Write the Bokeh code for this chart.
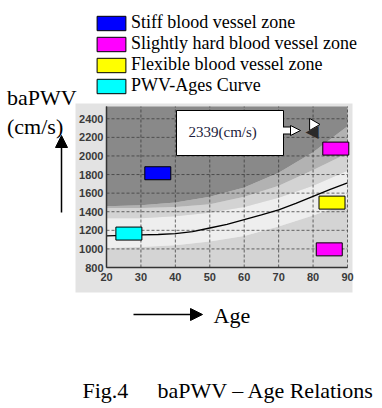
import math
from bokeh.plotting import figure
from bokeh.models import (Range1d, FixedTicker, Label, Arrow, NormalHead,
                          Legend, LegendItem, LinearAxis)
from bokeh.core.properties import value
from bokeh.embed import file_html
from bokeh.resources import INLINE

# ---------------- data ----------------
ages = [20, 30, 40, 50, 60, 70, 80, 90]
stiff_zone_lower = [1460, 1470, 1500, 1560, 1660, 1820, 2040, 2320]
transition_zone_lower = [1440, 1440, 1450, 1480, 1560, 1680, 1850, 2030]
upper_normal_lower = [1330, 1330, 1350, 1390, 1450, 1550, 1680, 1840]
flexible_zone_lower = [1010, 1020, 1040, 1080, 1140, 1240, 1360, 1490]

curve_ages = [20, 25, 30, 35, 40, 45, 50, 55, 60, 65, 70, 75, 80, 85, 90]
curve_pwv = [1140, 1145, 1150, 1155, 1165, 1185, 1225, 1265, 1315, 1365,
             1420, 1490, 1565, 1640, 1710]

stiff_age = [34.9]
stiff_pwv = [1814]
slight_age = [86.6, 84.7]
slight_pwv = [2079, 995]
flex_age = [85.5]
flex_pwv = [1498]
curve_marker_age = [26.5]
curve_marker_pwv = [1165]

measured_age = [80]
measured_pwv = [2339]

x_ticks = [20, 30, 40, 50, 60, 70, 80, 90]
y_ticks = [800, 1000, 1200, 1400, 1600, 1800, 2000, 2200, 2400]

legend_labels = ["Stiff blood vessel zone", "Slightly hard blood vessel zone",
                 "Flexible blood vessel zone", "PWV-Ages Curve"]

# ---------------- layout (page pixels, y downwards) ----------------
CW, CH = 382, 408
PL, PR, PT, PB = 106, 347, 106, 267     # chart area
X0, X1 = 20, 90
Y0, Y_TOP = 800, 2532
SERIF = "Liberation Serif"

kx = (X1 - X0) / (PR - PL)
ky = (Y_TOP - Y0) / (PB - PT)

p = figure(width=CW, height=CH, x_range=Range1d(0, CW), y_range=Range1d(CH, 0),
           x_axis_type=None, y_axis_type=None,
           output_backend="svg", toolbar_location=None, min_border=0)
p.min_border_left = p.min_border_right = p.min_border_top = p.min_border_bottom = 0
p.background_fill_color = "white"
p.border_fill_color = "white"
p.outline_line_color = None
p.grid.visible = False

p.extra_x_ranges = {"age": Range1d(X0 - PL * kx, X1 + (CW - PR) * kx)}
p.extra_y_ranges = {"pwv": Range1d(Y0 - (CH - PB) * ky, Y_TOP + PT * ky)}
KW = dict(x_range_name="age", y_range_name="pwv")

# outer light-grey picture background
p.quad(left=[75], right=[352], top=[103], bottom=[292], fill_color="#e3e3e3",
       line_color=None)

# zone bands
bands = [
    (Y0, flexible_zone_lower, "#d4d4d4"),
    (flexible_zone_lower, upper_normal_lower, "#eeeeee"),
    (upper_normal_lower, transition_zone_lower, "#d3d3d3"),
    (transition_zone_lower, stiff_zone_lower, "#b2b2b2"),
    (stiff_zone_lower, Y_TOP, "#898989"),
]
for lo, hi, col in bands:
    p.varea(x=ages, y1=lo, y2=hi, fill_color=col, **KW)

# dashed grid
p.segment(x0=x_ticks, y0=Y0, x1=x_ticks, y1=Y_TOP, line_color="#3a3a3a",
          line_dash="3 2", line_alpha=0.75, line_width=1, **KW)
p.segment(x0=X0, y0=y_ticks, x1=X1, y1=y_ticks, line_color="#3a3a3a",
          line_dash="3 2", line_alpha=0.75, line_width=1, **KW)

# axes at the chart edges
xax = LinearAxis(fixed_location=Y0, bounds=(X0, X1), ticker=FixedTicker(ticks=x_ticks), **KW)
yax = LinearAxis(fixed_location=X0, bounds=(Y0, Y_TOP), ticker=FixedTicker(ticks=y_ticks), **KW)
for ax in (xax, yax):
    ax.axis_line_color = "#333333"
    ax.axis_line_width = 1.5
    ax.major_tick_line_color = None
    ax.minor_tick_line_color = None
    ax.major_tick_in = 0
    ax.major_tick_out = 0
    ax.major_label_text_font = "Liberation Sans"
    ax.major_label_text_font_size = "11px"
    ax.major_label_text_font_style = "bold"
    ax.major_label_text_color = "#3a3a3a"
xax.major_label_standoff = 5
yax.major_label_standoff = 3
p.add_layout(xax, "below")
p.add_layout(yax, "left")

# PWV-age curve
p.line(curve_ages, curve_pwv, line_color="black", line_width=1.3, **KW)

# zone marker boxes
def zone_box(xs, ys, col):
    return p.rect(x=xs, y=ys, width=26, height=13, width_units="screen",
                  height_units="screen", fill_color=col, line_color="black",
                  line_width=1, **KW)

r_stiff = zone_box(stiff_age, stiff_pwv, "#0000ff")
r_slight = zone_box(slight_age, slight_pwv, "#ff00ff")
r_flex = zone_box(flex_age, flex_pwv, "#ffff00")
r_curve = zone_box(curve_marker_age, curve_marker_pwv, "#00ffff")

# measured point marker
p.scatter(measured_age, measured_pwv, marker="triangle", angle=-math.pi / 2,
          size=12, fill_color="white", line_color="black", line_width=1, **KW)
p.text(x=measured_age, y=measured_pwv, text=["\u25C0"], text_font=value("DejaVu Sans"),
       text_font_size="17px", text_color="#2a2a2a", text_align="center",
       text_baseline="middle", y_offset=7, x_offset=-1, **KW)

# callout box with measured value
p.quad(left=[176], right=[283], top=[110], bottom=[155], fill_color="white",
       line_color="black", line_width=1)
p.add_layout(Label(x=188, y=131, text=f"{measured_pwv[0]}(cm/s)",
                   text_baseline="alphabetic",
                   text_font=SERIF, text_font_size="15px", text_color="#1c1c3c"))

# block arrow from callout to the measured point
p.add_layout(Arrow(end=None, x_start=283, y_start=130, x_end=293, y_end=130,
                   line_color="black", line_width=8))
p.add_layout(Arrow(end=None, x_start=282, y_start=130, x_end=294, y_end=130,
                   line_color="white", line_width=6))
p.add_layout(Arrow(end=NormalHead(size=10, fill_color="white", line_color="black",
                                  line_width=1),
                   x_start=289, y_start=130, x_end=300, y_end=130, line_alpha=0))

# legend
legend = Legend(items=[LegendItem(label=legend_labels[0], renderers=[r_stiff]),
                       LegendItem(label=legend_labels[1], renderers=[r_slight]),
                       LegendItem(label=legend_labels[2], renderers=[r_flex]),
                       LegendItem(label=legend_labels[3], renderers=[r_curve])],
                location=(93, 312))
legend.label_text_font = SERIF
legend.label_text_font_size = "18px"
legend.label_text_color = "black"
legend.glyph_width = 36
legend.glyph_height = 18
legend.label_height = 18
legend.label_standoff = 2
legend.spacing = 0
legend.padding = 0
legend.margin = 0
legend.background_fill_alpha = 0
legend.border_line_alpha = 0
p.add_layout(legend)

# axis titles, arrows and caption
def plabel(x, y, text, size):
    p.add_layout(Label(x=x, y=y, text=text, text_font=SERIF, text_font_size=size,
                       text_baseline="alphabetic", text_color="black"))

plabel(6.5, 97, "baPWV", "22px")
plabel(6.5, 126, "(cm/s)", "22px")
plabel(213, 315, "Age", "22px")
plabel(82, 390, "Fig.4", "22px")
plabel(157, 390, "baPWV \u2013 Age Relations", "22px")

p.add_layout(Arrow(end=NormalHead(size=12, fill_color="black", line_color="black"),
                   x_start=61, y_start=212, x_end=61, y_end=135,
                   line_color="black", line_width=1.5))
p.add_layout(Arrow(end=NormalHead(size=12, fill_color="black", line_color="black"),
                   x_start=133, y_start=314, x_end=202, y_end=314,
                   line_color="black", line_width=1.5))

open("out.html", "w").write(file_html(p, INLINE))
